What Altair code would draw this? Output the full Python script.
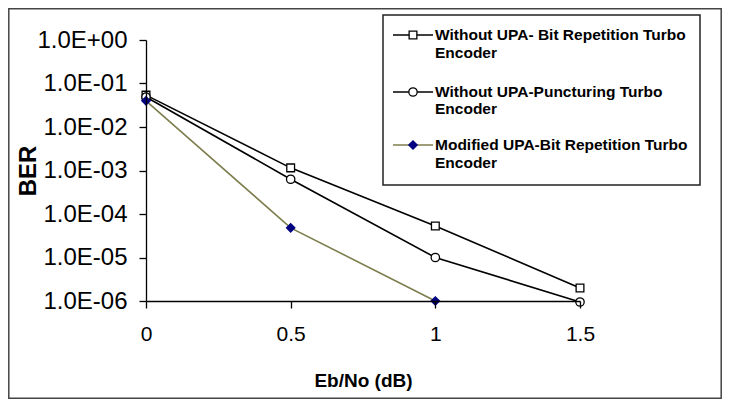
import altair as alt
import pandas as pd

# ---- data ----
ebno = [0, 0.5, 1, 1.5]
ber_rep = [0.054, 1.15e-3, 5.3e-5, 2.0e-6]
ber_punct = [0.049, 6.3e-4, 1.0e-5, 9.5e-7]
ebno_mod = [0, 0.5, 1]
ber_mod = [0.040, 4.8e-5, 1.0e-6]

legend_lines = [
    ["Without UPA- Bit Repetition Turbo", "Encoder"],
    ["Without UPA-Puncturing Turbo", "Encoder"],
    ["Modified UPA-Bit Repetition Turbo", "Encoder"],
]

x_ticks = [0, 0.5, 1, 1.5]
y_ticks = [1, 1e-1, 1e-2, 1e-3, 1e-4, 1e-5, 1e-6]
y_tick_labels = ["1.0E+00", "1.0E-01", "1.0E-02", "1.0E-03", "1.0E-04", "1.0E-05", "1.0E-06"]

FONT = "Liberation Sans"
OLIVE = "#7d7d4e"
NAVY = "#000080"

# label expression built from the tick label list
expr = ""
for v, lab in zip(y_ticks[:-1], y_tick_labels[:-1]):
    expr += f"datum.value >= {v * 0.5} ? '{lab}' : "
expr += f"'{y_tick_labels[-1]}'"

W, H = 434, 261
PAD_L, PAD_T, PAD_R, PAD_B = 138, 32, 142, 98

x_enc = alt.X(
    "x:Q",
    scale=alt.Scale(domain=[0, 1.5], nice=False, zero=False),
    axis=alt.Axis(
        values=x_ticks, title="Eb/No  (dB)", labelFontSize=21, labelPadding=15,
        labelFlush=False,
        titleFontSize=19, titleFontWeight="bold", titleY=79, titleBaseline="middle",
        format="~g", zindex=1,
    ),
)
y_enc = alt.Y(
    "y:Q",
    scale=alt.Scale(type="log", domain=[1e-6, 1], nice=False),
    axis=alt.Axis(
        values=y_ticks, labelExpr=expr, title="BER", labelFontSize=24, labelPadding=12,
        labelFlush=False,
        titleFontSize=24, titleFontWeight="bold", titleX=-118, titleY=H / 2,
        titleAngle=-90, titleAlign="center", titleBaseline="middle", zindex=1,
    ),
)

def series(xs, ys, color, shape, fill, stroke, size):
    df = pd.DataFrame({"x": xs, "y": ys})
    base = alt.Chart(df).encode(x=x_enc, y=y_enc)
    line = base.mark_line(color=color, strokeWidth=1.6, clip=False)
    pts = base.mark_point(shape=shape, filled=True, fill=fill, stroke=stroke,
                          strokeWidth=1.3, size=size, opacity=1, clip=False)
    return line + pts

s1 = series(ebno, ber_rep, "black", "square", "white", "black", 60)
s2 = series(ebno, ber_punct, "black", "circle", "white", "black", 70)
s3 = series(ebno_mod, ber_mod, OLIVE, "diamond", NAVY, NAVY, 70)

one = alt.Data(values=[{"a": 1}])

frame = alt.Chart(one).mark_rect(fillOpacity=0, stroke="#444444", strokeWidth=1.5).encode(
    x=alt.value(-PAD_L + 0.8), x2=alt.value(W + PAD_R - 0.8),
    y=alt.value(-PAD_T + 0.8), y2=alt.value(H + PAD_B - 0.8),
)

legend_box = alt.Chart(one).mark_rect(fill="white", stroke="#222222", strokeWidth=1.5).encode(
    x=alt.value(237), x2=alt.value(554), y=alt.value(-25), y2=alt.value(145)
)

legend_style = [
    ("black", "square", "white", "black", 60),
    ("black", "circle", "white", "black", 70),
    (OLIVE, "diamond", NAVY, NAVY, 70),
]
line_y = [(-5, 13), (52, 69), (105, 123)]

legend_layers = []
for (lc, shp, fl, st, sz), lines, (ya, yb) in zip(legend_style, legend_lines, line_y):
    legend_layers.append(
        alt.Chart(one).mark_rule(color=lc, strokeWidth=1.6).encode(
            x=alt.value(247), x2=alt.value(287), y=alt.value(ya)
        )
    )
    legend_layers.append(
        alt.Chart(one).mark_point(shape=shp, filled=True, fill=fl, stroke=st,
                                  strokeWidth=1.3, size=sz, opacity=1).encode(
            x=alt.value(267), y=alt.value(ya)
        )
    )
    for txt, yy in zip(lines, (ya, yb)):
        legend_layers.append(
            alt.Chart(one).mark_text(text=txt, align="left", baseline="middle",
                                     font=FONT, fontSize=15.5, fontWeight="bold",
                                     color="black").encode(
                x=alt.value(289), y=alt.value(yy)
            )
        )

chart = alt.layer(frame, s1, s2, s3, legend_box, *legend_layers).properties(
    width=W, height=H,
    padding={"left": PAD_L, "top": PAD_T, "right": PAD_R, "bottom": PAD_B},
    autosize=alt.AutoSizeParams(type="none"),
    background="white",
).configure_view(stroke=None).configure_axis(
    grid=False, labelFont=FONT, titleFont=FONT, labelColor="black", titleColor="black",
    domainColor="black", tickColor="black", tickSize=7, domainWidth=1.3, tickWidth=1.3,
)

chart.save("out.html", embed_options={"renderer": "svg", "actions": False})
